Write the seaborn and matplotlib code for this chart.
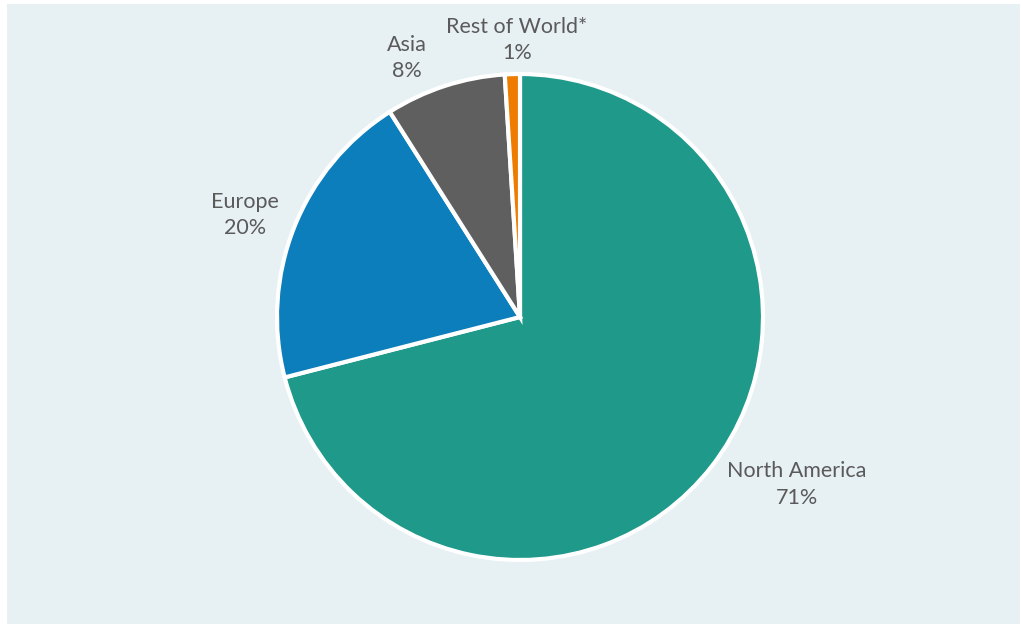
import matplotlib.pyplot as plt
import seaborn as sns
from matplotlib.patches import Rectangle

regions = ["North America", "Europe", "Asia", "Rest of World*"]
shares = [71, 20, 8, 1]
colors = ["#1F998A", "#0B7EBB", "#5F5F5F", "#EE7C00"]
# label centres in pie-radius units
label_pos = [(1.14, -0.69), (-1.13, 0.42), (-0.465, 1.066), (-0.012, 1.14)]

sns.set_theme(style="white")
plt.rcParams["font.family"] = ["Lato", "DejaVu Sans"]

fig = plt.figure(figsize=(10.21, 6.26), dpi=100)
fig.patch.set_facecolor("white")
fig.add_artist(Rectangle((7 / 1021, 2 / 626), 1013 / 1021, 620 / 626,
                         transform=fig.transFigure, facecolor="#E7F0F3",
                         edgecolor="none", zorder=0))

cx, cy, r = 520, 317, 243
ax = fig.add_axes([(cx - r) / 1021, (626 - cy - r) / 626, 2 * r / 1021, 2 * r / 626])
ax.set_facecolor("none")

ax.pie(shares, colors=colors, startangle=90, counterclock=False,
       wedgeprops={"edgecolor": "white", "linewidth": 3})
ax.set_xlim(-1, 1)
ax.set_ylim(-1, 1)
ax.set_aspect("equal")

for name, val, (x, y) in zip(regions, shares, label_pos):
    ax.text(x, y, f"{name}\n{val}%", ha="center", va="center", fontsize=15.5,
            color="#5A5A5A", linespacing=1.4, clip_on=False)

ax.axis("off")
fig.savefig("out.png", dpi=100, facecolor=fig.get_facecolor())
